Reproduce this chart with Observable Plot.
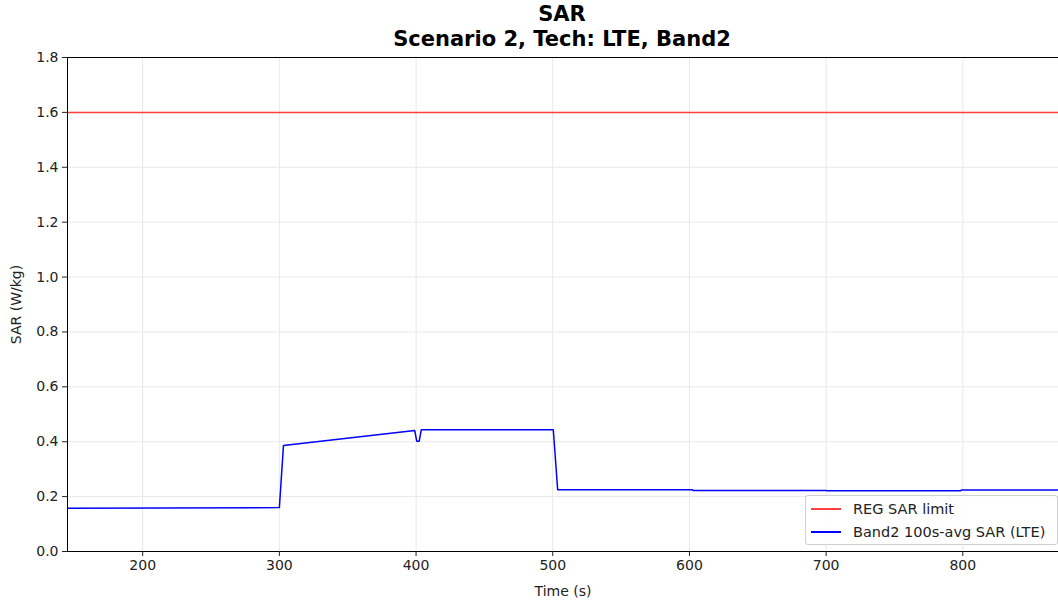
<!DOCTYPE html>
<html>
<head>
<meta charset="utf-8">
<script src="https://cdn.jsdelivr.net/npm/d3@7"></script>
<script src="https://cdn.jsdelivr.net/npm/@observablehq/plot@0.6"></script>
<style>
  html, body { margin: 0; padding: 0; background: white; }
  #wrap { position: relative; width: 1058px; height: 603px; overflow: hidden; font-family: "DejaVu Sans", sans-serif; }
  #title { position: absolute; left: 0; top: 2px; width: 1124px; text-align: center; font-weight: bold; font-size: 21px; line-height: 24.6px; color: black; }
  #title div { height: 24.6px; }
  #chart { position: absolute; left: 0; top: 50px; }
  #legend { position: absolute; left: 805px; top: 495px; width: 251px; height: 48px; border: 1px solid #d0d0d0; border-radius: 3px; background: rgba(255,255,255,0.85); font-size: 14.5px; color: #222; }
  .row { position: absolute; left: 0; height: 20px; width: 250px; }
  .sw { position: absolute; left: 5px; top: 9px; width: 30px; height: 2px; }
  .lab { position: absolute; left: 47px; top: 0; white-space: nowrap; line-height: 20px; }
</style>
</head>
<body>
<div id="wrap">
  <div id="title"><div>SAR</div><div>Scenario 2, Tech: LTE, Band2</div></div>
  <div id="chart"></div>
  <div id="legend"></div>
</div>
<script>
// Data
const timeS = [145, 300, 303, 399, 400.5, 402.3, 403.8, 500.4, 503.6, 602, 603, 700, 701, 798, 799, 870];
const sarValues = [0.158, 0.160, 0.386, 0.441, 0.402, 0.402, 0.4435, 0.4435, 0.225, 0.225, 0.222, 0.222, 0.221, 0.221, 0.224, 0.224];
const limitValue = [1.6];
const xTicks = [200, 300, 400, 500, 600, 700, 800];
const yTicks = [0, 0.2, 0.4, 0.6, 0.8, 1.0, 1.2, 1.4, 1.6, 1.8];
const seriesNames = ["REG SAR limit", "Band2 100s-avg SAR (LTE)"];
const seriesColors = ["#ff4040", "blue"];

const data = timeS.map((t, i) => ({t, v: sarValues[i]}));

const chart = Plot.plot({
  width: 1058,
  height: 553,
  marginLeft: 67,
  marginRight: 0,
  marginTop: 7,
  marginBottom: 52,
  style: {fontFamily: "DejaVu Sans", fontSize: "14px", color: "#222", background: "white", overflow: "visible"},
  x: {domain: [145, 870], label: null},
  y: {domain: [0, 1.8], label: null},
  marks: [
    Plot.gridX(xTicks, {stroke: "#e8e8e8", strokeOpacity: 1}),
    Plot.gridY(yTicks, {stroke: "#e8e8e8", strokeOpacity: 1}),
    Plot.ruleY(limitValue, {stroke: seriesColors[0], strokeWidth: 1.5}),
    Plot.line(data, {x: "t", y: "v", stroke: seriesColors[1], strokeWidth: 1.5, clip: true}),
    Plot.frame({stroke: "black", strokeWidth: 1}),
    Plot.axisX({ticks: xTicks, tickSize: 5, tickPadding: 4, label: "Time (s)", labelAnchor: "center", labelArrow: "none", labelOffset: 44}),
    Plot.axisY({ticks: yTicks, tickSize: 5, tickPadding: 4, tickFormat: d3.format(".1f"), label: "SAR (W/kg)", labelAnchor: "center", labelArrow: "none", labelOffset: 56})
  ]
});
document.getElementById("chart").appendChild(chart);

const legend = document.getElementById("legend");
seriesNames.forEach((name, i) => {
  const row = document.createElement("div");
  row.className = "row";
  row.style.top = (3 + i * 22.5) + "px";
  row.innerHTML = `<div class="sw" style="background:${seriesColors[i]}"></div><div class="lab">${name}</div>`;
  legend.appendChild(row);
});
</script>
</body>
</html>
